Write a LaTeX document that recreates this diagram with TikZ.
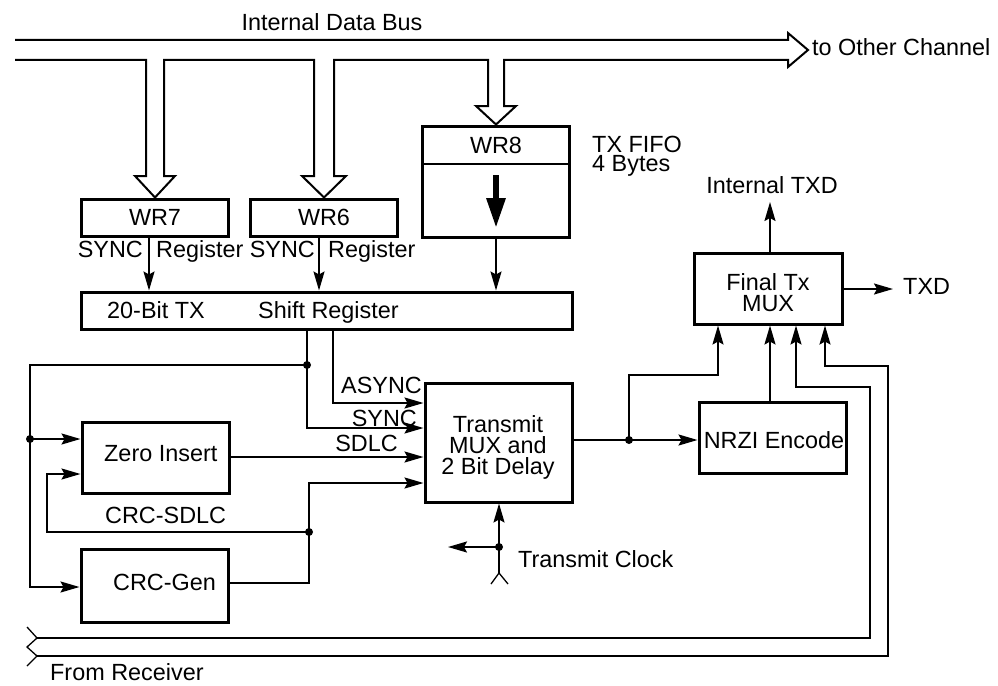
\documentclass[tikz,border=0pt]{standalone}
\usepackage{fontspec}
\setmainfont{Liberation Sans}
\usetikzlibrary{arrows.meta}
\begin{document}
\begin{tikzpicture}[x=1pt,y=-1pt,
  txt/.style={font=\fontsize{23.4}{21}\selectfont, inner sep=0pt},
  box/.style={draw, line width=3pt, minimum width=147pt, inner sep=0pt, font=\fontsize{23.4}{21}\selectfont},
  wire/.style={line width=2pt},
  thinwire/.style={line width=1.3pt},
  arr/.style={line width=2pt, -{Stealth[length=19pt,width=11pt,inset=3pt]}},
  busline/.style={line width=2pt, line join=miter},
  jdot/.style={circle, fill, minimum size=8pt, inner sep=0pt}]
\useasboundingbox (0,0) rectangle (998,685);

% ---- boxes
\node[box, minimum height=37pt] (wr7) at (155,217.5) {WR7};
\node[box, minimum height=37pt] (wr6) at (324,217.5) {WR6};
\node[box, minimum height=111pt] (wr8) at (496,181.5) {};
\node[box, minimum width=491pt, minimum height=37pt] (sr) at (326.5,310.5) {};
\node[box, minimum height=71pt] (zi) at (155.5,457.5) {};
\node[box, minimum height=73pt] (crc) at (154.5,585.5) {};
\node[box, minimum height=119pt] (tm) at (498.5,442.5) {};
\node[box, minimum height=71pt] (nrzi) at (772.5,437.5) {};
\node[box, minimum width=148pt, minimum height=71pt] (fm) at (768,288.5) {};

% ---- helper coordinates
\coordinate (dv) at (0,164);
\coordinate (x7) at (149,0);
\coordinate (x6) at (319,0);
\coordinate (xa) at (333,0);
\coordinate (xs) at (307,0);
\coordinate (ra) at (0,403);
\coordinate (rs) at (0,428);
\coordinate (rd) at (0,457);
\coordinate (rc) at (0,483);
\coordinate (rg) at (0,587);
\coordinate (ro) at (0,583);
\coordinate (rz2) at (47,474);
\coordinate (jl) at (30,365);
\coordinate (r440) at (0,440);
\coordinate (c718) at (718,375);
\coordinate (c770) at (770,0);
\coordinate (c796) at (796,0);
\coordinate (c825) at (825,0);
\coordinate (fr1) at (37,638);
\coordinate (fr2) at (37,656);
\coordinate (itxd) at (770,202);
\coordinate (r289) at (0,289);
\coordinate (txdend) at (893,289);
\coordinate (fork) at (499,573);
\coordinate (clkl) at (448,547);

% ---- internal data bus
\draw[busline] (15,40) -- (788,40) -- (788,33) -- (808,50) -- (788,67) -- (788,60)
  -- (504,60) -- (504,106) -- (516,106) -- (wr8.north) -- (476,106) -- (488,106) -- (488,60)
  -- (334,60) -- (334,176) -- (346,176) -- (wr6.north) -- (302,176) -- (314,176) -- (314,60)
  -- (164,60) -- (164,176) -- (175,176) -- (wr7.north) -- (135,176) -- (146,176) -- (146,60)
  -- (15,60);

% ---- WR8 FIFO
\draw[wire] (wr8.west |- dv) -- (wr8.east |- dv);
\draw[line width=6pt, -{Triangle[length=30pt,width=18pt]}] (496,175) -- (496,228);

% ---- register connections
\draw[arr] (wr7.south -| x7) -- (sr.north -| x7);
\draw[arr] (wr6.south -| x6) -- (sr.north -| x6);
\draw[arr] (wr8.south) -- (sr.north -| wr8.south);

\draw[arr] (sr.south -| xa) |- (tm.west |- ra);
\draw[arr] (sr.south -| xs) |- (tm.west |- rs);
\node[jdot] (j1) at (xs |- jl) {};
\draw[arr] (j1.center) -- (jl) |- (crc.west |- rg);
\node[jdot] (j2) at (30,439) {};
\draw[arr] (j2.center) -- (zi.west |- j2);
\draw[arr] (zi.east |- rd) -- (tm.west |- rd);
\node[jdot] (j3) at (309,532) {};
\draw[arr] (j3.center) -| (rz2) -- (zi.west |- rz2);
\draw[arr] (crc.east |- ro) -| (j3.center) |- (tm.west |- rc);

% ---- output side
\draw[arr] (tm.east |- r440) -- (nrzi.west |- r440);
\node[jdot] (j4) at (629,440) {};
\draw[arr] (j4.center) |- (c718) -- (fm.south -| c718);
\draw[arr] (nrzi.north -| c770) -- (fm.south -| c770);
\draw[arr] (fr1) -| (870,387) -| (fm.south -| c796);
\draw[arr] (fr2) -| (888,366) -| (fm.south -| c825);
\draw[thinwire] (27,627) -- (fr1) -- (27,647) -- (fr2) -- (27,666);
\draw[arr] (fm.north -| c770) -- (itxd);
\draw[arr] (fm.east |- r289) -- (txdend);

% ---- transmit clock
\draw[arr] (fork) -- (tm.south -| fork);
\node[jdot] (j5) at (499,547) {};
\draw[arr] (j5.center) -- (clkl);
\draw[thinwire] (491,584) -- (fork) -- (508,584);

% ---- texts
\node[txt, anchor=base] (tbus) at (332,31) {Internal Data Bus};
\node[txt, anchor=base west] (tother) at (812,56) {to Other Channel};
\node[txt, anchor=north west, align=left, font=\fontsize{23.4}{18.5}\selectfont] (tfifo) at (592,136) {TX FIFO\\4 Bytes};
\node[txt, anchor=base] (twr8) at (496,153) {WR8};
\node[txt, anchor=base east] (ts7) at (143,257) {SYNC};
\node[txt, anchor=base west] (tr7) at (156,257) {Register};
\node[txt, anchor=base east] (ts6) at (315,257) {SYNC};
\node[txt, anchor=base west] (tr6) at (328,257) {Register};
\node[txt, anchor=base west] (tsr1) at (107,318) {20-Bit TX};
\node[txt, anchor=base west] (tsr2) at (258,318) {Shift Register};
\node[txt, anchor=base east] (tasync) at (422,393) {ASYNC};
\node[txt, anchor=base east] (tsync) at (417,426) {SYNC};
\node[txt, anchor=base east] (tsdlc) at (398,451) {SDLC};
\node[txt, anchor=base west] (tzi) at (104,461) {Zero Insert};
\node[txt, anchor=base west] (tcrcs) at (105,523) {CRC-SDLC};
\node[txt, anchor=base west] (tcrc) at (113,590) {CRC-Gen};
\node[txt, anchor=base west] (tfrom) at (50,680) {From Receiver};
\node[txt, anchor=base west] (tclk) at (518,567) {Transmit Clock};
\node[txt, anchor=north, align=center] (ttm) at (498,415) {Transmit\\MUX and\\2 Bit Delay};
\node[txt, anchor=north, align=center] (tfm) at (768,273) {Final Tx\\MUX};
\node[txt, anchor=base] (tnrzi) at (774,448) {NRZI Encode};
\node[txt, anchor=base] (titxd) at (772,193) {Internal TXD};
\node[txt, anchor=base west] (ttxd) at (903,294) {TXD};
\end{tikzpicture}
\end{document}
